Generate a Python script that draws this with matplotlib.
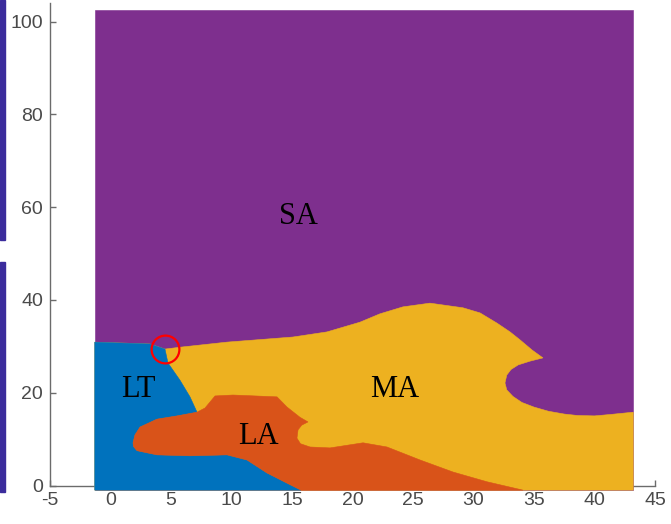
import matplotlib
matplotlib.use("Agg")
import matplotlib.pyplot as plt
from matplotlib.patches import Polygon, Rectangle
import numpy as np

plt.rcParams["axes.unicode_minus"] = False

# phase colours (MATLAB default order)
c_lt = "#0072BD"
c_la = "#D95319"
c_ma = "#EDB120"
c_sa = "#7E2F8E"

# extent of the computed map
x_min, x_max = -1.3, 43.2
y_min, y_max = -1.0, 102.5

# lower edge of the SA region, left to right (includes the lobe on the right)
sa_x = [-1.3, 3.26, 4.50, 5.74, 9.63, 15.08, 17.89, 20.62, 22.27, 24.17, 26.40,
        29.13, 30.54, 31.94, 33.02, 33.84, 34.84, 35.74, 34.67, 33.70, 33.10,
        32.75, 32.60, 32.75, 33.26, 34.00, 35.00, 36.20, 37.50, 38.55, 40.00,
        41.28, 43.2]
sa_y = [30.9, 30.5, 29.4, 29.8, 30.9, 32.0, 33.1, 35.2, 37.0, 38.5, 39.3,
        38.3, 37.2, 35.0, 33.1, 31.4, 29.2, 27.5, 26.8, 26.0, 25.0,
        23.8, 22.1, 20.6, 19.2, 17.9, 16.9, 16.0, 15.4, 15.1, 15.0,
        15.3, 15.8]
triple = 2  # index of the LT / MA / SA point

# LT / MA border, from the triple point down to LA
lt_x = [4.75, 5.74, 6.57, 7.15]
lt_y = [26.4, 22.7, 19.1, 15.8]

# upper edge of LA, from the LT junction to the bottom
la_top_x = [7.81, 8.64, 10.12, 13.76, 14.59, 15.66, 16.32, 15.80, 15.50, 15.41,
            15.70, 16.49, 18.14, 20.87, 22.85, 25.58, 28.31, 31.12, 34.09]
la_top_y = [16.7, 19.3, 19.5, 19.1, 16.9, 14.7, 13.7, 13.0, 12.0, 10.2,
            9.0, 8.3, 8.1, 9.2, 8.3, 5.5, 2.9, 0.8, -1.0]

# lower edge of LA, from the bottom back round the left tip to the junction
la_bot_x = [15.74, 14.59, 12.93, 11.28, 9.63, 6.57, 3.84, 2.19, 1.90, 1.86,
            2.02, 2.44, 3.84, 5.50, 7.15]
la_bot_y = [-1.0, 0.5, 2.7, 5.5, 6.6, 6.4, 6.6, 7.5, 8.4, 9.2,
            10.9, 12.6, 14.3, 15.0, 15.8]

phase_names = ["SA", "LT", "LA", "MA"]
label_x = [15.5, 2.3, 12.2, 23.5]
label_y = [57.9, 20.6, 10.5, 20.6]

marked_point = (sa_x[triple], sa_y[triple])

fig = plt.figure(figsize=(6.71, 5.24), dpi=100)
ax = fig.add_axes([50 / 671, 38.5 / 524, 605 / 671, 104 * 4.64 / 524])

# slivers of the neighbouring panel at the left edge
fig.patches.append(Rectangle((0, 1 - 240 / 524), 5 / 671, 240 / 524,
                             transform=fig.transFigure, color="#3b2c9c", zorder=0))
fig.patches.append(Rectangle((0, 32 / 524), 5 / 671, 230 / 524,
                             transform=fig.transFigure, color="#3b2c9c", zorder=0))


def region(xs, ys, color):
    p = Polygon(np.column_stack([xs, ys]), closed=True, facecolor=color,
                edgecolor=color, linewidth=0.4, clip_on=False, zorder=3)
    ax.add_patch(p)


# SA fills the whole map, the others are drawn over it
region([x_min, x_max, x_max, x_min], [y_min, y_min, y_max, y_max], c_sa)

region(sa_x + [x_max, x_min], sa_y + [y_min, y_min], c_ma)

lt_poly_x = [x_min] + sa_x[:triple + 1] + lt_x + la_bot_x[::-1][1:]
lt_poly_y = [y_min] + sa_y[:triple + 1] + lt_y + la_bot_y[::-1][1:]
region(lt_poly_x, lt_poly_y, c_lt)

region(la_top_x + la_bot_x, la_top_y + la_bot_y, c_la)

for name, tx, ty in zip(phase_names, label_x, label_y):
    ax.text(tx, ty, name, fontsize=22, family="Liberation Serif",
            ha="center", va="center", color="black", zorder=5)

ax.plot(*marked_point, "o", markersize=20, markerfacecolor="none",
        markeredgecolor="#ff0000", markeredgewidth=1.6, zorder=6, clip_on=False)

ax.set_xlim(-5, 45)
ax.set_ylim(0, 104)
ax.set_xticks(np.arange(-5, 46, 5))
ax.set_yticks(np.arange(0, 101, 20))
for side in ["top", "right"]:
    ax.spines[side].set_visible(False)
for side in ["left", "bottom"]:
    ax.spines[side].set_color("#6b6b6b")
    ax.spines[side].set_linewidth(1.0)
ax.tick_params(direction="in", length=4, width=1.0, color="#6b6b6b",
               labelsize=14, labelcolor="#4a4a4a", pad=5)
for lbl in ax.get_xticklabels() + ax.get_yticklabels():
    lbl.set_family("Liberation Sans")

fig.savefig("out.png", dpi=100)
